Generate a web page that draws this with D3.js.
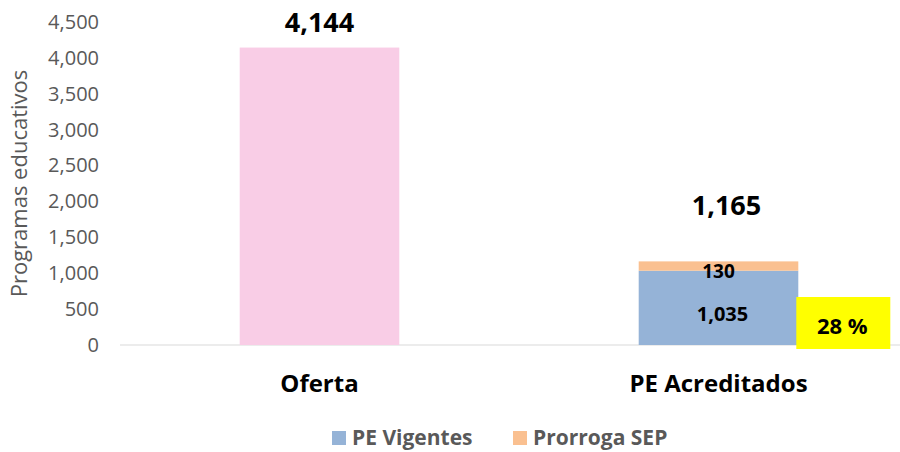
<!DOCTYPE html>
<html>
<head>
<meta charset="utf-8">
<script src="https://cdn.jsdelivr.net/npm/d3@7"></script>
<style>
  html, body { margin: 0; padding: 0; background: #fff; }
  svg { display: block; font-family: "Open Sans", "Noto Sans", sans-serif; }
</style>
</head>
<body>
<svg id="chart" width="900" height="452"></svg>
<script>
// Program counts
const categories = ["Oferta", "PE Acreditados"];
const ofertaValues = [4144, 0];
const vigentesValues = [0, 1035];
const prorrogaValues = [0, 130];
const totalLabels = ["4,144", "1,165"];
const yTicks = [0, 500, 1000, 1500, 2000, 2500, 3000, 3500, 4000, 4500];
const shareLabel = "28 %";
const seriesNames = ["PE Vigentes", "Prorroga SEP"];

const colors = { oferta: "#f9cde6", vigentes: "#95b3d7", prorroga: "#fac090" };

const svg = d3.select("#chart");

const x = d3.scaleBand().domain(categories).range([120, 918]).paddingInner(0.6).paddingOuter(0.3);
const y = d3.scaleLinear().domain([0, 4500]).range([345, 22]);

// axis tick labels
const yAxis = d3.axisLeft(y).tickValues(yTicks).tickSize(0).tickPadding(0)
  .tickFormat(d3.format(","));
const gy = svg.append("g").attr("transform", "translate(99,0)").call(yAxis);
gy.select(".domain").remove();
gy.selectAll("text").attr("fill", "#595959").style("font-size", "20px")
  .style("font-family", "'Open Sans', sans-serif");

// baseline
svg.append("line").attr("x1", 120).attr("x2", 900).attr("y1", y(0)).attr("y2", y(0))
  .attr("stroke", "#d9d9d9").attr("stroke-width", 1.2);

// y axis title
svg.append("text").attr("transform", `translate(27,${(y(0)+y(4500))/2}) rotate(-90)`)
  .attr("text-anchor", "middle").attr("fill", "#595959").style("font-size", "22px")
  .text("Programas educativos");

// stacked data
const rows = categories.map((c, i) => ({ cat: c, oferta: ofertaValues[i], vigentes: vigentesValues[i], prorroga: prorrogaValues[i] }));
const stack = d3.stack().keys(["oferta", "vigentes", "prorroga"])(rows);

svg.append("g").selectAll("g").data(stack).join("g")
  .attr("fill", d => colors[d.key])
  .selectAll("rect").data(d => d).join("rect")
  .attr("x", d => x(d.data.cat))
  .attr("width", x.bandwidth())
  .attr("y", d => y(d[1]))
  .attr("height", d => y(d[0]) - y(d[1]));

// total labels above bars
rows.forEach((r, i) => {
  const total = r.oferta + r.vigentes + r.prorroga;
  svg.append("text")
    .attr("x", x(r.cat) + x.bandwidth() / 2 + (i === 1 ? 8 : 0))
    .attr("y", i === 0 ? y(total) - 16 : y(total) - 46)
    .attr("text-anchor", "middle").attr("font-weight", "bold")
    .style("font-size", "27px").attr("fill", "#000")
    .text(totalLabels[i]);
});

// segment labels
const pe = rows[1];
svg.append("text")
  .attr("x", x(pe.cat) + x.bandwidth() / 2 + 4).attr("y", y(pe.vigentes / 2) + 13)
  .attr("text-anchor", "middle").attr("font-weight", "bold").style("font-size", "20px")
  .text(d3.format(",")(pe.vigentes));
svg.append("text")
  .attr("x", x(pe.cat) + x.bandwidth() / 2).attr("y", y(pe.vigentes + pe.prorroga / 2) + 12)
  .attr("text-anchor", "middle").attr("font-weight", "bold").style("font-size", "19px")
  .text(d3.format(",")(pe.prorroga));

// share box
const bx = x(pe.cat) + x.bandwidth() - 2;
svg.append("rect").attr("x", bx).attr("y", 297).attr("width", 94).attr("height", 52).attr("fill", "#ffff00");
svg.append("text").attr("x", bx + 46).attr("y", 334).attr("text-anchor", "middle")
  .attr("font-weight", "bold").style("font-size", "22px").text(shareLabel);

// category labels
svg.append("g").selectAll("text").data(categories).join("text")
  .attr("x", d => x(d) + x.bandwidth() / 2)
  .attr("y", 392).attr("text-anchor", "middle").attr("font-weight", "bold")
  .style("font-size", "24px").attr("fill", "#000").text(d => d);

// legend
const legend = [
  { name: seriesNames[0], color: colors.vigentes, x: 332 },
  { name: seriesNames[1], color: colors.prorroga, x: 513 }
];
const lg = svg.append("g").selectAll("g").data(legend).join("g")
  .attr("transform", d => `translate(${d.x},431)`);
lg.append("rect").attr("width", 14).attr("height", 14).attr("fill", d => d.color);
lg.append("text").attr("x", 20).attr("y", 14).attr("font-weight", "bold")
  .style("font-size", "21px").attr("fill", "#595959").text(d => d.name);
</script>
</body>
</html>
